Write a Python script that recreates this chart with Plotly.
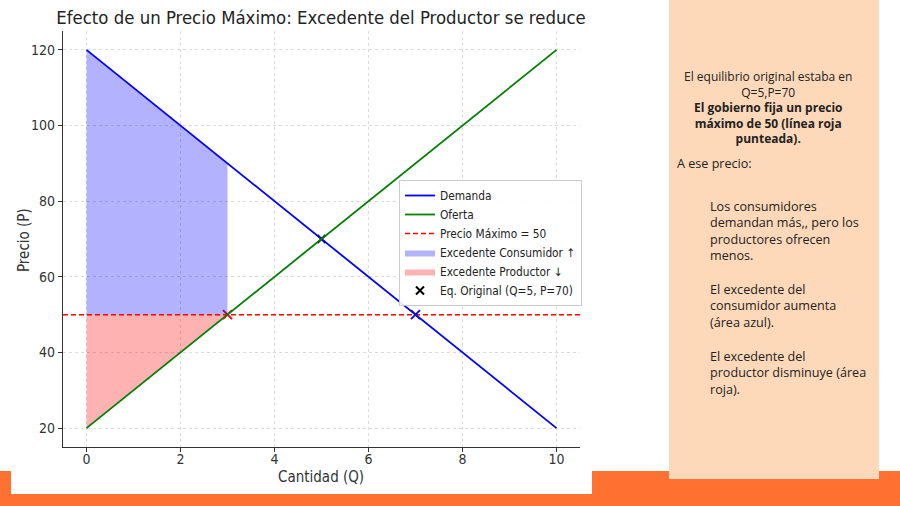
import plotly.graph_objects as go

# ---- data ----
q_vals = [0, 1, 2, 3, 4, 5, 6, 7, 8, 9, 10]
demand_vals = [120, 110, 100, 90, 80, 70, 60, 50, 40, 30, 20]
supply_vals = [20, 30, 40, 50, 60, 70, 80, 90, 100, 110, 120]
price_ceiling = 50
q_supplied = 3
q_demanded = 7
eq_q = 5
eq_p = 70
x_ticks = [0, 2, 4, 6, 8, 10]
y_ticks = [20, 40, 60, 80, 100, 120]

W, H = 900, 506
def px(x):
    return x / W
def py(y):
    return 1 - y / H

x_range = [-0.5, 10.5]
y_range = [15, 125]

FONT = "DejaVu Sans Condensed, DejaVu Sans"
TEXTFONT = "Open Sans, Noto Sans, sans-serif"

fig = go.Figure()

# markers first (drawn under lines)
fig.add_trace(go.Scatter(x=[eq_q], y=[eq_p], mode="markers", name="Eq. Original (Q=5, P=70)",
                         legendrank=6,
                         marker=dict(symbol="x-thin", size=8, color="black",
                                     line=dict(width=2, color="black"))))
fig.add_trace(go.Scatter(x=[q_supplied], y=[price_ceiling], mode="markers", showlegend=False,
                         marker=dict(symbol="x-thin", size=9, color="red",
                                     line=dict(width=2, color="red"))))

# consumer surplus region (between demand and ceiling for q <= q_supplied)
cs_q = [q for q in q_vals if q <= q_supplied]
cs_top = [d for q, d in zip(q_vals, demand_vals) if q <= q_supplied]
fig.add_trace(go.Scatter(x=cs_q + cs_q[::-1], y=cs_top + [price_ceiling] * len(cs_q),
                         fill="toself", mode="lines", line=dict(width=0), legendrank=4,
                         fillcolor="rgba(0,0,255,0.3)", name="Excedente Consumidor ↑"))
ps_bot = [s for q, s in zip(q_vals, supply_vals) if q <= q_supplied]
fig.add_trace(go.Scatter(x=cs_q + cs_q[::-1], y=[price_ceiling] * len(cs_q) + ps_bot[::-1],
                         fill="toself", mode="lines", line=dict(width=0), legendrank=5,
                         fillcolor="rgba(255,0,0,0.3)", name="Excedente Productor ↓"))

fig.add_trace(go.Scatter(x=x_range, y=[price_ceiling, price_ceiling], mode="lines",
                         name="Precio Máximo = 50", legendrank=3,
                         line=dict(color="#ff0000", width=1.5, dash="5px,3px")))
fig.add_trace(go.Scatter(x=q_vals, y=demand_vals, mode="lines", name="Demanda", legendrank=1,
                         line=dict(color="#0000ff", width=1.8)))
fig.add_trace(go.Scatter(x=q_vals, y=supply_vals, mode="lines", name="Oferta", legendrank=2,
                         line=dict(color="#008000", width=1.8)))
fig.add_trace(go.Scatter(x=[q_demanded], y=[price_ceiling], mode="markers", showlegend=False,
                         marker=dict(symbol="x-thin", size=9, color="#1010c0",
                                     line=dict(width=2, color="#1010c0"))))

shapes = [
    dict(type="rect", xref="paper", yref="paper", x0=0, x1=1, y0=py(506), y1=py(471),
         fillcolor="#ff7130", line=dict(width=0), layer="below"),
    dict(type="rect", xref="paper", yref="paper", x0=px(11), x1=px(592), y0=py(494), y1=py(0),
         fillcolor="white", line=dict(width=0), layer="below"),
    dict(type="rect", xref="paper", yref="paper", x0=px(669), x1=px(879), y0=py(479), y1=py(0),
         fillcolor="#fdd9b9", line=dict(width=0), layer="below"),
]

panel_intro = ["El equilibrio original estaba en", "Q=5,P=70"]
panel_bold = ["El gobierno fija un precio", "máximo de 50 (línea roja", "punteada)."]
panel_lead = "A ese precio:"
panel_paras = [
    ["Los consumidores", "demandan más,, pero los", "productores ofrecen", "menos."],
    ["El excedente del", "consumidor aumenta", "(área azul)."],
    ["El excedente del", "productor disminuye (área", "roja)."],
]

annotations = []
tf = dict(family=TEXTFONT, size=12, color="#222")
center_text = "<br>".join(panel_intro + [f"<b>{t}</b>" for t in panel_bold])
annotations.append(dict(text=center_text, x=px(768), y=py(67), xref="paper", yref="paper",
                        showarrow=False, xanchor="center", yanchor="top", align="center",
                        borderpad=0, font=tf))
annotations.append(dict(text=panel_lead, x=px(676), y=py(163), xref="paper", yref="paper",
                        showarrow=False, xanchor="left", yanchor="middle", borderpad=0,
                        font=dict(family=TEXTFONT, size=12.6, color="#222")))
para_tops = [197, 280, 347]
for lines, top in zip(panel_paras, para_tops):
    annotations.append(dict(text="<br>".join(lines), x=px(709), y=py(top), xref="paper",
                            yref="paper", showarrow=False, xanchor="left", yanchor="top",
                            align="left", borderpad=0,
                            font=dict(family=TEXTFONT, size=12.6, color="#222")))

# axis titles
annotations.append(dict(text="Cantidad (Q)", x=px(321), y=py(477), xref="paper", yref="paper",
                        showarrow=False, xanchor="center", yanchor="middle",
                        font=dict(family=FONT, size=15, color="#333")))
annotations.append(dict(text="Precio (P)", x=px(24), y=py(240), xref="paper", yref="paper",
                        showarrow=False, xanchor="center", yanchor="middle", textangle=-90,
                        font=dict(family=FONT, size=15, color="#333")))

axis_common = dict(showline=True, linecolor="#333", linewidth=1.3, mirror=False,
                   ticks="outside", ticklen=4, tickcolor="#333", tickwidth=1,
                   showgrid=True, gridcolor="#dcdcdc", griddash="dot", gridwidth=1,
                   zeroline=False, tickfont=dict(family=FONT, size=14, color="#333"))

fig.update_layout(
    width=W, height=H, margin=dict(l=0, r=0, t=0, b=0),
    paper_bgcolor="white", plot_bgcolor="rgba(0,0,0,0)",
    shapes=shapes, annotations=annotations,
    title=dict(text="Efecto de un Precio Máximo: Excedente del Productor se reduce",
               x=px(321), xanchor="center", y=py(18), yanchor="middle",
               font=dict(family=FONT, size=18.4, color="#222")),
    xaxis=dict(domain=[px(63), px(580)], range=x_range, tickvals=x_ticks,
               anchor="y", ticklabelstandoff=-5, **axis_common),
    yaxis=dict(domain=[py(447), py(31)], range=y_range, tickvals=y_ticks,
               anchor="x", **axis_common),
    legend=dict(x=px(399), y=py(180), xanchor="left", yanchor="top",
                bgcolor="rgba(255,255,255,0.9)", bordercolor="#cccccc", borderwidth=1,
                font=dict(family=FONT, size=11.8, color="#222"), tracegroupgap=0,
                itemwidth=30, traceorder="normal"),
    showlegend=True,
)

fig.write_html("out.html")
